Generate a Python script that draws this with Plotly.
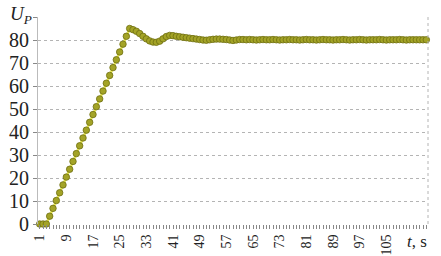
import plotly.graph_objects as go

# Data
rise = [0.0, 0.0, 0.0,
        3.4, 6.8, 10.2, 13.6, 17.0, 20.4, 23.8, 27.2, 30.6, 34.0,
        37.4, 40.8, 44.2, 47.6, 51.0, 54.4, 57.8, 61.2, 64.6, 68.0,
        71.4, 74.8, 78.2, 81.6, 85.0]
transient = [84.5, 83.8, 82.8, 81.6, 80.5, 79.6, 79.1, 79.0, 79.5, 80.5,
             81.5, 82.0, 81.9, 81.6, 81.4, 81.2, 81.0, 80.8, 80.6, 80.4,
             80.2, 80.0, 79.9, 80.1, 80.3, 80.4, 80.4, 80.3, 80.2, 80.0,
             79.8, 80.0, 80.2]
steady = [80.2, 80.1, 80.2, 80.1, 80.0, 80.1, 80.2, 80.1, 80.1, 80.2,
          80.1, 80.0, 80.1, 80.1, 80.2, 80.1, 80.1, 80.0, 80.1, 80.2,
          80.1, 80.1, 80.0, 80.1, 80.2, 80.1, 80.1, 80.0, 80.1, 80.1,
          80.2, 80.1, 80.0, 80.1, 80.1, 80.2, 80.1, 80.0, 80.1, 80.1,
          80.1, 80.2, 80.1, 80.0, 80.1, 80.1, 80.1, 80.2, 80.1, 80.0,
          80.1, 80.1, 80.1, 80.1, 80.1, 80.1]
u_p = rise + transient + steady
t = list(range(1, len(u_p) + 1))
x_labels = [1, 9, 17, 25, 33, 41, 49, 57, 65, 73, 81, 89, 97, 105]
y_ticks = [0, 10, 20, 30, 40, 50, 60, 70, 80, 90]
y_labels = ["0", "10", "20", "30", "40", "50", "60", "70", "80", ""]

ticktext = [str(v) if v in x_labels else "" for v in t]

fig = go.Figure()
fig.add_trace(go.Scatter(
    x=t, y=u_p, mode="lines+markers",
    line=dict(color="#eaea55", width=2.5),
    marker=dict(size=6.5, color="#a3a326", line=dict(color="#6f6f12", width=0.8)),
    cliponaxis=False, showlegend=False))

serif = "Liberation Serif"
fig.update_layout(
    width=441, height=256,
    margin=dict(l=38, r=13, t=17, b=32),
    paper_bgcolor="white", plot_bgcolor="white",
    font=dict(family=serif, color="#222"),
    xaxis=dict(range=[0.5, len(t) + 0.5], tickmode="array", tickvals=t,
               ticktext=ticktext, tickangle=-90, ticks="outside", ticklen=4,
               tickcolor="#888", tickwidth=1, showgrid=False, zeroline=False,
               showline=False, automargin=False,
               tickfont=dict(family=serif, size=14, color="#222")),
    yaxis=dict(range=[0, 90], tickmode="array", tickvals=y_ticks, ticktext=y_labels,
               ticks="outside", ticklen=4, tickcolor="#888", showgrid=True,
               gridcolor="#b4b4b4", griddash="dot", gridwidth=1, zeroline=False,
               showline=True, linecolor="#bbbbbb", linewidth=1, automargin=False,
               tickfont=dict(family=serif, size=20, color="#222")),
    shapes=[dict(type="line", xref="paper", yref="paper", x0=1, x1=1, y0=0, y1=1,
                 line=dict(color="#b4b4b4", width=1, dash="dot"))],
    annotations=[
        dict(text="<i>U<sub>P</sub></i>", xref="paper", yref="paper",
             x=-0.078, y=1.075, xanchor="left", yanchor="top", showarrow=False,
             font=dict(family=serif, size=19, color="#222")),
        dict(text="<i>t</i>, s", xref="paper", yref="paper",
             x=0.94, y=-0.085, xanchor="left", yanchor="middle", showarrow=False,
             font=dict(family=serif, size=17, color="#222")),
    ],
)
fig.write_html("out.html", post_script="document.body.style.margin='0';",
               config={"displayModeBar": False})
